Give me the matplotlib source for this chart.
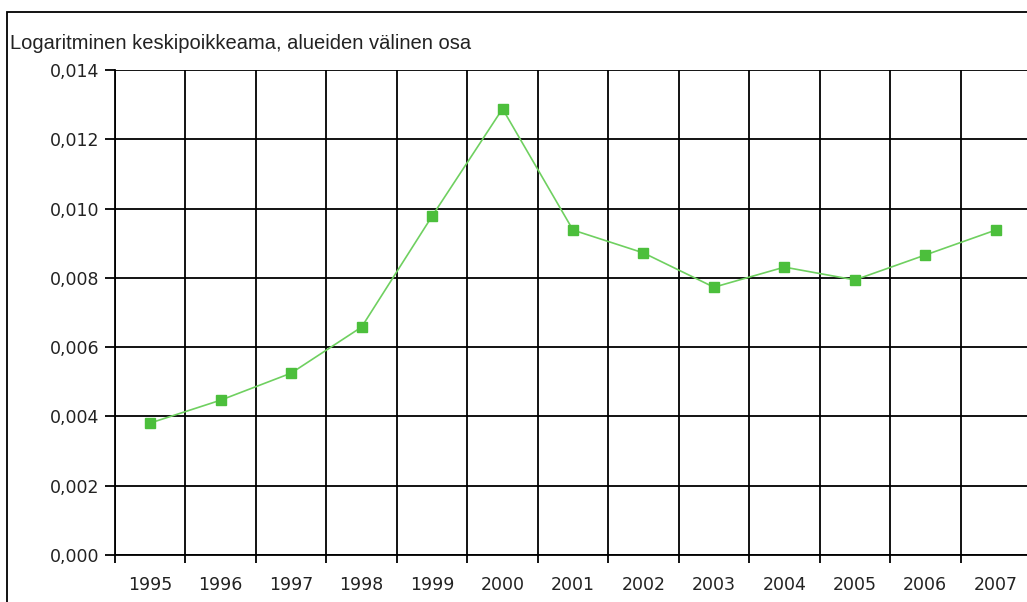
import numpy as np
import matplotlib.pyplot as plt
from matplotlib.patches import Rectangle
from matplotlib.ticker import FixedLocator, FuncFormatter

years = ['1995', '1996', '1997', '1998', '1999', '2000', '2001',
         '2002', '2003', '2004', '2005', '2006', '2007']
values = [0.00381, 0.00447, 0.00525, 0.00658, 0.00978, 0.01288, 0.00938,
          0.00872, 0.00773, 0.00831, 0.00794, 0.00866, 0.00938]
yticks = [0.000, 0.002, 0.004, 0.006, 0.008, 0.010, 0.012, 0.014]
title = 'Logaritminen keskipoikkeama, alueiden välinen osa'

plt.rcParams['font.family'] = ['DejaVu Sans']

fig = plt.figure(figsize=(10.27, 6.02), dpi=100)
ax = fig.add_axes([115 / 1027, 1 - 555 / 602, 916 / 1027, 485 / 602])

x = np.arange(len(years))
ax.plot(x, values, color='#6fd060', linewidth=1.2, zorder=3)
ax.plot(x, values, linestyle='none', marker='s', markersize=7,
        color='#4cbf3c', zorder=4)

ax.set_xlim(-0.5, len(years) - 0.5)
ax.set_ylim(0, 0.014)

# category boundaries carry the vertical grid and the x ticks
ax.xaxis.set_major_locator(FixedLocator(np.arange(len(years) + 1) - 0.5))
ax.xaxis.set_major_formatter(FuncFormatter(lambda v, p: ''))
ax.xaxis.set_minor_locator(FixedLocator(x))
ax.set_xticklabels(years, minor=True)
ax.tick_params(axis='x', which='minor', length=0, pad=15, labelsize=12.5,
               labelcolor='#222222')
ax.tick_params(axis='x', which='major', length=6, width=1.3, color='black')

ax.set_yticks(yticks)
ax.yaxis.set_major_formatter(FuncFormatter(lambda v, p: f'{v:.3f}'.replace('.', ',')))
ax.tick_params(axis='y', length=7, width=1.3, pad=4, labelsize=12.5,
               labelcolor='#222222')

ax.grid(True, which='major', color='black', linewidth=1.3)
ax.set_axisbelow(True)
for side in ['top', 'right']:
    ax.spines[side].set_visible(False)
for side in ['left', 'bottom']:
    ax.spines[side].set_linewidth(1.3)

# outer chart frame
fig.patches.append(Rectangle((7 / 1027, -0.1), 1.2, 1.1 - 12 / 602,
                             transform=fig.transFigure, fill=False,
                             edgecolor='black', linewidth=1.3))

fig.text(10 / 1027, 1 - 49 / 602, title, fontsize=14.5, va='baseline',
         ha='left', color='#222222', family=['Liberation Sans', 'DejaVu Sans'])

plt.savefig('out.png', dpi=100)
